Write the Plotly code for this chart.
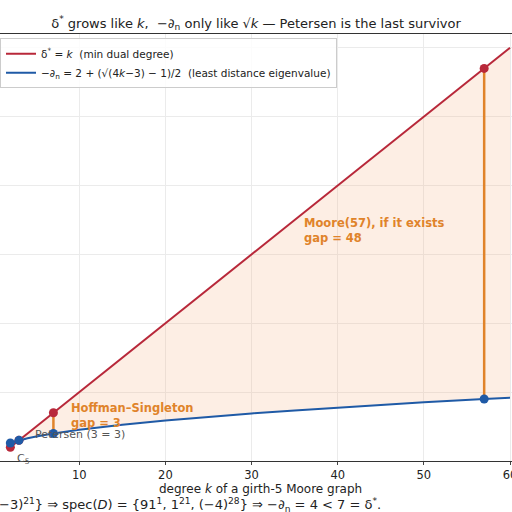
import plotly.graph_objects as go

# degree k and the two quantities along the curve
k_vals = [2, 3, 4, 5, 7, 10, 12, 15, 20, 25, 30, 35, 40, 45, 50, 57, 60]
dual_degree = [2, 3, 4, 5, 7, 10, 12, 15, 20, 25, 30, 35, 40, 45, 50, 57, 60]
least_eig = [2.62, 3.0, 3.30, 3.56, 4.0, 4.54, 4.85, 5.27, 5.89, 6.42, 6.91, 7.35, 7.77, 8.15, 8.52, 9.0, 9.20]

# Moore graphs of girth 5: C5, Petersen, Hoffman-Singleton, Moore(57)
moore_k = [2, 3, 7, 57]
moore_deg = [2, 3, 7, 57]
moore_eig = [2.62, 3.0, 4.0, 9.0]
gap_k = [7, 57]
gap_low = [4.0, 9.0]
gap_high = [7.0, 57.0]

RED = '#b8283a'
BLUE = '#1f5aa6'
ORANGE = '#e0832a'
FONT = 'DejaVu Sans'

fig = go.Figure()

# shaded gap between the two curves
fig.add_trace(go.Scatter(x=k_vals, y=least_eig, mode='lines', line=dict(width=0),
                         showlegend=False, hoverinfo='skip'))
fig.add_trace(go.Scatter(x=k_vals, y=dual_degree, mode='lines', line=dict(width=0),
                         fill='tonexty', fillcolor='rgba(246,170,120,0.2)',
                         showlegend=False, hoverinfo='skip'))

fig.add_trace(go.Scatter(x=k_vals, y=dual_degree, mode='lines', name='δ<sup>*</sup> = <i>k</i>  (min dual degree)',
                         line=dict(color=RED, width=2)))
fig.add_trace(go.Scatter(x=k_vals, y=least_eig, mode='lines',
                         name='−∂<sub>n</sub> = 2 + (√(4<i>k</i>−3) − 1)/2  (least distance eigenvalue)',
                         line=dict(color=BLUE, width=2)))

gx, gy = [], []
for k, lo, hi in zip(gap_k, gap_low, gap_high):
    gx += [k, k, None]
    gy += [lo, hi, None]
fig.add_trace(go.Scatter(x=gx, y=gy, mode='lines', line=dict(color=ORANGE, width=2.5),
                         showlegend=False))

fig.add_trace(go.Scatter(x=moore_k, y=moore_deg, mode='markers',
                         marker=dict(color=RED, size=9), showlegend=False))
fig.add_trace(go.Scatter(x=moore_k, y=moore_eig, mode='markers',
                         marker=dict(color=BLUE, size=9), showlegend=False))

annots = [
    dict(x=2.5, y=0.004, yref='paper', text='C<sub>5</sub>', font=dict(size=11, color='#555555'),
         xanchor='left', yanchor='middle'),
    dict(x=4.6, y=3.9, text='Petersen (3 = 3)', font=dict(size=11, color='#555555'),
         xanchor='left', yanchor='middle'),
    dict(x=8.8, y=6.6, text='<b>Hoffman–Singleton<br>gap = 3</b>', font=dict(size=11.5, color=ORANGE),
         xanchor='left', yanchor='middle', align='left'),
    dict(x=35.8, y=33.4, text='<b>Moore(57), if it exists<br>gap = 48</b>', font=dict(size=11.5, color=ORANGE),
         xanchor='left', yanchor='middle', align='left'),
]
for a in annots:
    a.setdefault('yref', 'y')
    a.update(xref='x', showarrow=False)
    a['font']['family'] = FONT
    fig.add_annotation(**a)

fig.add_annotation(
    xref='paper', yref='paper', x=0.748, y=-0.103, xanchor='right', yanchor='middle',
    showarrow=False, font=dict(family=FONT, size=13, color='#222222'),
    text='Hoffman–Singleton: spec(<i>A</i>) = {7<sup>1</sup>, 2<sup>28</sup>, (−3)<sup>21</sup>} ⇒ '
         'spec(<i>D</i>) = {91<sup>1</sup>, 1<sup>21</sup>, (−4)<sup>28</sup>} ⇒ '
         '−∂<sub>n</sub> = 4 &lt; 7 = δ<sup>*</sup>.')

fig.add_annotation(
    xref='paper', yref='paper', x=0.508, y=-0.066, xanchor='center', yanchor='middle',
    showarrow=False, font=dict(family=FONT, size=12, color='#222222'),
    text='degree <i>k</i> of a girth-5 Moore graph')

fig.update_layout(
    width=512, height=512,
    margin=dict(l=0, r=0, t=34, b=51, autoexpand=False),
    paper_bgcolor='white', plot_bgcolor='white',
    font=dict(family=FONT, size=11, color='#222222'),
    title=dict(text='δ<sup>*</sup> grows like <i>k</i>,  −∂<sub>n</sub> only like √<i>k</i> — Petersen is the last survivor',
               x=0.5, xanchor='center', y=0.955, yanchor='middle', font=dict(size=13)),
    legend=dict(x=0.0, y=0.99, xanchor='left', yanchor='top', bgcolor='rgba(255,255,255,0.85)',
                bordercolor='#cccccc', borderwidth=1, font=dict(size=10.5), traceorder='normal'),
    showlegend=True,
)
fig.update_xaxes(range=[0.8, 60.23], tickvals=[10, 20, 30, 40, 50, 60], showgrid=True,
                 gridcolor='#ebebeb', showline=True, linecolor='#333333', mirror=True,
                 ticks='outside', ticklen=3, zeroline=False, automargin=False,
                 tickfont=dict(size=11.5), ticklabeloverflow='allow')
fig.update_yaxes(range=[0, 62], dtick=10, showgrid=True, gridcolor='#ebebeb',
                 showticklabels=False, zeroline=False, showline=False, automargin=False)

fig.write_html("out.html", config={'displayModeBar': False},
               post_script="document.body.style.margin='0';")
